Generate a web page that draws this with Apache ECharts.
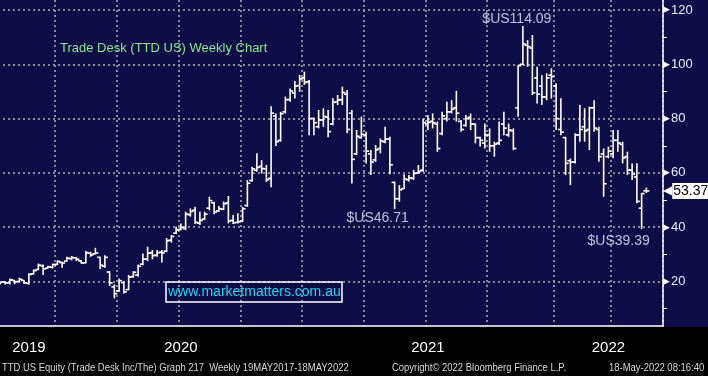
<!DOCTYPE html>
<html>
<head>
<meta charset="utf-8">
<title>TTD weekly</title>
<script src="https://cdn.jsdelivr.net/npm/echarts@6/dist/echarts.min.js"></script>
<style>
  html, body { margin: 0; padding: 0; background: #000; }
  #chart { width: 708px; height: 376px; }
</style>
</head>
<body>
<div id="chart"></div>
<script>
// weekly bars, week ending Friday, first bar 11-Oct-2019
const firstWeek = '2019-10-11'
const weekCount = 140 // 137 bars + a few empty weeks on the right

const opens = [
  19.3, 19.8, 19.5, 20.4, 20.0, 20.4, 19.3, 22.8, 24.4, 25.8,
  24.9, 25.2, 26.3, 27.0, 27.5, 28.4, 28.7, 27.6, 26.9, 30.4,
  30.2, 28.9, 25.6, 23.5, 18.0, 16.5, 19.6, 17.0, 21.8, 22.4,
  26.4, 28.3, 30.6, 29.7, 30.8, 31.2, 35.2, 37.8, 39.2, 39.5,
  44.6, 46.2, 41.5, 43.0, 47.0, 49.0, 46.0, 46.6, 49.0, 42.5,
  41.8, 42.2, 48.0, 57.2, 61.0, 62.4, 61.5, 58.0, 81.0, 72.0,
  82.5, 87.0, 89.5, 92.2, 95.0, 93.6, 80.0, 77.0, 79.5, 80.5,
  78.0, 86.2, 87.0, 89.0, 82.0, 67.0, 73.0, 74.0, 67.0, 64.8,
  69.0, 71.5, 72.5, 56.5, 50.5, 54.2, 57.5, 58.0, 60.0, 61.0,
  78.0, 79.0, 78.0, 74.5, 80.0, 82.5, 84.0, 79.0, 77.5, 80.5,
  78.0, 73.0, 71.0, 74.0, 70.0, 71.0, 78.0, 74.0, 75.5, 84.0,
  100.0, 107.0, 106.0, 95.0, 92.0, 88.0, 96.0, 92.0, 76.0, 73.0,
  64.5, 64.0, 74.0, 77.0, 76.0, 84.0, 76.0, 67.0, 66.0, 67.0,
  72.0, 70.5, 66.0, 61.0, 58.5, 47.0, 53.4
]
const highs = [
  20.0, 20.1, 21.1, 20.5, 21.4, 20.5, 23.0, 24.4, 26.6, 26.3,
  25.8, 26.6, 27.8, 27.3, 29.1, 29.4, 29.0, 27.9, 31.2, 30.9,
  32.4, 29.1, 29.7, 23.8, 18.9, 21.1, 20.1, 22.4, 23.8, 26.3,
  30.3, 32.8, 31.6, 31.6, 31.6, 36.0, 37.1, 40.2, 41.4, 45.7,
  46.9, 47.5, 45.7, 45.7, 51.2, 49.4, 47.8, 49.4, 51.5, 44.5,
  45.1, 47.5, 57.4, 62.3, 67.2, 64.7, 62.9, 84.6, 81.9, 82.5,
  88.1, 91.1, 93.9, 96.1, 97.3, 94.2, 80.4, 83.2, 83.8, 83.2,
  87.5, 88.7, 91.8, 90.5, 83.2, 75.8, 80.7, 75.2, 68.4, 70.3,
  72.7, 77.0, 73.3, 56.8, 55.5, 59.5, 59.2, 61.1, 62.9, 80.0,
  81.3, 81.9, 78.9, 82.5, 86.2, 86.8, 90.2, 79.5, 81.3, 81.9,
  78.2, 73.3, 78.2, 76.4, 71.5, 78.9, 82.5, 78.2, 76.4, 99.7,
  114.09, 108.9, 110.8, 99.1, 96.0, 96.7, 98.5, 93.0, 87.5, 73.3,
  65.3, 74.6, 85.0, 83.8, 84.4, 86.8, 77.0, 69.0, 69.7, 75.8,
  75.8, 71.5, 67.8, 63.5, 63.6, 52.6, 54.6
]
const lows = [
  19.0, 18.9, 18.9, 19.0, 19.7, 19.1, 18.9, 22.6, 24.2, 22.4,
  24.8, 24.8, 26.0, 25.1, 27.3, 27.8, 27.5, 26.6, 26.6, 29.1,
  30.0, 24.6, 25.1, 18.4, 13.8, 16.2, 15.6, 16.8, 21.4, 21.7,
  26.0, 27.5, 28.2, 29.1, 27.0, 30.8, 34.3, 37.5, 38.9, 38.9,
  43.9, 41.2, 40.8, 42.6, 46.3, 44.8, 45.7, 46.3, 41.4, 41.2,
  41.4, 42.0, 47.5, 56.7, 60.4, 59.8, 56.7, 54.7, 69.9, 71.5,
  81.9, 86.2, 87.4, 89.9, 92.4, 73.9, 73.9, 76.4, 77.0, 73.1,
  77.6, 85.0, 85.0, 74.6, 56.1, 66.6, 72.7, 63.5, 59.2, 64.1,
  67.2, 70.9, 59.5, 46.71, 49.4, 54.1, 56.8, 57.4, 59.8, 60.4,
  75.8, 76.4, 67.8, 73.9, 78.9, 81.9, 78.9, 75.2, 77.0, 75.8,
  70.9, 69.7, 69.0, 67.8, 66.0, 70.3, 73.9, 73.3, 68.4, 80.7,
  99.7, 99.1, 88.7, 85.6, 85.0, 86.8, 87.4, 75.8, 73.9, 59.2,
  55.5, 63.5, 71.5, 71.5, 68.4, 75.2, 64.1, 51.2, 65.4, 65.4,
  67.8, 63.5, 59.2, 57.4, 48.8, 39.39, 52.6
]
const closes = [
  19.8, 19.5, 20.6, 19.9, 20.8, 19.5, 22.6, 24.0, 26.0, 24.6,
  25.4, 26.2, 27.4, 26.8, 28.6, 28.8, 28.2, 26.8, 30.6, 29.8,
  30.5, 26.0, 28.9, 19.5, 15.5, 20.3, 16.2, 21.6, 23.4, 25.6,
  28.2, 30.4, 29.5, 30.6, 30.5, 35.0, 36.6, 39.0, 40.0, 44.8,
  45.8, 41.8, 42.5, 44.8, 49.8, 45.6, 46.8, 48.6, 42.3, 41.6,
  42.0, 46.8, 56.2, 61.5, 62.0, 61.6, 57.5, 82.0, 71.5, 81.8,
  87.0, 90.2, 92.0, 94.6, 93.3, 80.0, 78.5, 79.5, 80.8, 75.2,
  86.0, 86.8, 89.6, 76.0, 65.0, 73.5, 74.2, 68.0, 64.0, 68.5,
  71.8, 72.4, 63.0, 50.5, 53.8, 57.8, 58.2, 59.8, 60.5, 78.5,
  78.6, 78.5, 69.0, 81.0, 82.5, 83.5, 82.0, 76.0, 80.0, 78.0,
  73.0, 72.0, 74.0, 70.0, 70.6, 72.0, 76.5, 75.8, 69.0, 99.5,
  107.5, 106.5, 89.5, 89.0, 88.0, 95.0, 95.5, 80.0, 75.0, 63.5,
  64.0, 74.0, 76.0, 75.5, 84.0, 76.5, 66.0, 56.0, 68.0, 72.0,
  71.0, 65.5, 61.0, 59.5, 49.5, 52.4, 53.37
]

const yLabels = [20, 40, 60, 80, 100, 120]
const yMinorTicks = [10, 30, 50, 70, 90, 110]
const lastPrice = 53.37

// annotated extremes: bar index, value, text
const noteIndex = [110, 83, 135]
const noteValue = [114.09, 46.71, 39.39]
const noteText = ['$US114.09', '$US46.71', '$US39.39']

const footerLeft = 'TTD US Equity (Trade Desk Inc/The) Graph 217  Weekly 19MAY2017-18MAY2022'
const footerMid = 'Copyright\u00a9 2022 Bloomberg Finance L.P.'
const footerRight = '18-May-2022 08:16:40'

// week dates for the category axis
const weeks = []
const start = Date.parse(firstWeek)
for (let i = 0; i < weekCount; i++) {
  weeks.push(new Date(start + i * 7 * 86400000).toISOString().slice(0, 10))
}
const monthStart = i => i > 0 && weeks[i].slice(0, 7) !== weeks[i - 1].slice(0, 7)
const quarterStart = i => monthStart(i) && ['01', '04', '07', '10'].includes(weeks[i].slice(5, 7))
const yearStart = i => i > 0 && weeks[i].slice(0, 4) !== weeks[i - 1].slice(0, 4)

// year label sits in the middle of the visible part of each year
const yearMid = new Set()
const years = [...new Set(weeks.map(w => w.slice(0, 4)))]
years.forEach(y => {
  const idx = weeks.map((w, i) => (w.startsWith(y) ? i : -1)).filter(i => i >= 0)
  yearMid.add(Math.round((idx[0] + idx[idx.length - 1]) / 2))
})

const ohlc = opens.map((o, i) => [i, o, closes[i], lows[i], highs[i]])

const notePlacement = [
  { position: 'top', distance: 0, offset: [-6, 0] },
  { position: 'bottom', distance: 2, offset: [-17, 0] },
  { position: 'bottom', distance: 5, offset: [-23, 0] }
]

const navy = '#0f0d48'
const gridLine = { show: true, lineStyle: { color: '#8a8a96', width: 2, type: [2, 3] } }
const footerFont = '11px "Liberation Sans", sans-serif'

const chart = echarts.init(document.getElementById('chart'))

chart.setOption({
  backgroundColor: navy,
  animation: false,
  graphic: [
    { type: 'rect', z: -100, silent: true, shape: { x: 0, y: 327, width: 708, height: 49 }, style: { fill: '#000' } },
    { type: 'text', x: 2, y: 362, scaleX: 0.86, style: { text: footerLeft, fill: '#d8d8d8', font: footerFont } },
    { type: 'text', x: 392, y: 362, scaleX: 0.86, style: { text: footerMid, fill: '#d8d8d8', font: footerFont } },
    { type: 'text', x: 609, y: 362, scaleX: 0.86, style: { text: footerRight, fill: '#d8d8d8', font: footerFont } }
  ],
  title: [
    {
      text: 'Trade Desk (TTD US) Weekly Chart',
      left: 55,
      top: 37,
      textStyle: { color: '#80ec90', fontSize: 13, fontWeight: 'normal', fontFamily: 'Liberation Sans' }
    },
    {
      text: 'www.marketmatters.com.au',
      left: 166,
      top: 282,
      padding: [3, 2, 2, 2],
      borderColor: '#ffffff',
      borderWidth: 1.5,
      textStyle: { color: '#1cd6f2', fontSize: 14, fontWeight: 'normal', fontFamily: 'Liberation Sans', lineHeight: 15 }
    }
  ],
  grid: { left: -2, right: 45, top: 0, bottom: 50, outerBoundsMode: 'none', containLabel: false },
  xAxis: [
    {
      type: 'category',
      data: weeks,
      boundaryGap: true,
      axisLine: { lineStyle: { color: '#ffffff', width: 1.5 } },
      axisTick: { interval: i => monthStart(i), length: 3, lineStyle: { color: '#ffffff' } },
      axisLabel: {
        interval: i => yearMid.has(i),
        formatter: v => v.slice(0, 4),
        color: '#ffffff',
        fontSize: 15,
        fontFamily: 'Liberation Sans',
        margin: 14
      },
      splitLine: { ...gridLine, interval: i => quarterStart(i) }
    },
    {
      type: 'category',
      data: weeks,
      boundaryGap: true,
      position: 'bottom',
      offset: 10,
      axisLine: { show: false },
      axisTick: { interval: i => yearStart(i), length: 21, lineStyle: { color: '#9a9a9a', width: 1 } },
      axisLabel: { show: false },
      splitLine: { show: false }
    }
  ],
  yAxis: [
    {
      type: 'value',
      position: 'right',
      min: 3.6,
      max: 123.7,
      axisLine: { show: true, lineStyle: { color: '#ffffff', width: 1.5 } },
      axisTick: { show: false, customValues: yLabels },
      axisLabel: {
        customValues: yLabels,
        margin: 0,
        formatter: v => '{t|\u25b6}{v|' + v + '}',
        rich: {
          t: { color: '#ffffff', fontSize: 9, fontFamily: 'DejaVu Sans' },
          v: { color: '#e8eeff', fontSize: 13, fontFamily: 'Liberation Sans', padding: [0, 0, 0, 1] }
        }
      },
      splitLine: gridLine
    },
    {
      type: 'value',
      position: 'right',
      min: 3.6,
      max: 123.7,
      axisLine: { show: false },
      axisTick: { show: true, customValues: yMinorTicks, length: 4, lineStyle: { color: '#ffffff' } },
      axisLabel: { show: false },
      splitLine: { show: false }
    },
    {
      type: 'value',
      position: 'right',
      min: 3.6,
      max: 123.7,
      axisLine: { show: false },
      axisTick: { show: false },
      axisLabel: {
        customValues: [lastPrice],
        margin: 0,
        formatter: v => '{a|\u25c0}{b|' + v.toFixed(2) + '}',
        rich: {
          a: { color: '#ffffff', fontSize: 12, fontFamily: 'DejaVu Sans' },
          b: { color: '#000000', backgroundColor: '#ffffff', fontSize: 14, fontFamily: 'Liberation Sans', height: 16, padding: [0, 2, 0, 1] }
        }
      },
      splitLine: { show: false }
    }
  ],
  series: [
    {
      name: 'TTD',
      type: 'custom',
      data: ohlc,
      encode: { x: 0, y: [1, 2, 3, 4] },
      renderItem(params, api) {
        const i = api.value(0)
        const [x, yHigh] = api.coord([i, api.value(4)])
        const yLow = api.coord([i, api.value(3)])[1]
        const yOpen = api.coord([i, api.value(1)])[1]
        const yClose = api.coord([i, api.value(2)])[1]
        const style = { stroke: '#ffffff', lineWidth: 1.6 }
        return {
          type: 'group',
          children: [
            { type: 'line', shape: { x1: x, y1: yHigh, x2: x, y2: yLow }, style },
            { type: 'line', shape: { x1: x - 3, y1: yOpen, x2: x, y2: yOpen }, style },
            { type: 'line', shape: { x1: x, y1: yClose, x2: x + 3, y2: yClose }, style }
          ]
        }
      }
    },
    {
      name: 'notes',
      type: 'scatter',
      symbolSize: 0,
      silent: true,
      data: noteIndex.map((idx, k) => ({
        value: [idx, noteValue[k]],
        label: {
          show: true,
          formatter: noteText[k],
          color: '#e6eeff',
          fontSize: 14,
          fontFamily: 'Liberation Sans',
          ...notePlacement[k]
        }
      }))
    }
  ]
})
</script>
</body>
</html>
